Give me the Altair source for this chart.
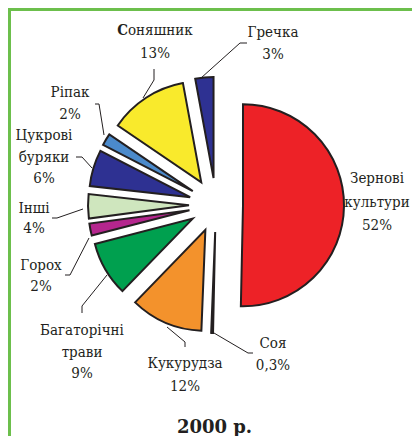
import math
import altair as alt
import pandas as pd

# ---- data ----
crops = ["Зернові культури", "Соя", "Кукурудза", "Багаторічні трави", "Горох",
         "Інші", "Цукрові буряки", "Ріпак", "Соняшник", "Гречка"]
shares = [52, 0.3, 12, 9, 2, 4, 6, 2, 13, 3]
colors = ["#ED2227", "#00A650", "#F3922C", "#00A04F", "#B5268E",
          "#CFE6BE", "#2E3192", "#4B8ACB", "#F9EA2C", "#2E3192"]
label_lines = [
    ["Зернові", "культури", "52%"],
    ["Соя", "0,3%"],
    ["Кукурудза", "12%"],
    ["Багаторічні", "трави", "9%"],
    ["Горох", "2%"],
    ["Інші", "4%"],
    ["Цукрові", "буряки", "6%"],
    ["Ріпак", "2%"],
    ["Соняшник", "13%"],
    ["Гречка", "3%"],
]
title_text = "2000 р."

# ---- layout (chart pixel units) ----
W, H = 404, 428
CX, CY, R, EXPLODE = 208, 197, 101, 27
label_pos = [  # centre x, first baseline, line spacing
    (369, 175, 23.5), (265, 340, 22), (177, 360, 23), (74, 327, 21.5),
    (33, 262, 21), (26, 205, 20), (36, 132, 21.5), (62, 89, 22),
    (147, 27, 23), (265, 29, 22),
]
leaders = [
    None,
    [(206, 325), (240, 345), (245, 345)],
    [(159, 319), (177, 334), (177, 339)],
    [(74, 305), (74, 298), (99, 267)],
    [(57, 267), (62, 267), (81, 230)],
    [(44, 210), (49, 210), (75, 201)],
    [(68, 149), (74, 149), (84, 160)],
    [(87, 96), (91, 96), (96, 127)],
    [(146, 61), (146, 72), (135, 90)],
    [(239, 35), (232, 35), (193, 70)],
]
SPLIT_X = 120           # where bold initial of "Соняшник" meets the rest
TITLE_POS = (206.5, 425)
INK = "#231f20"
FRAME = "#6cbf4c"
FONT = "DejaVu Serif Condensed"
FSIZE = 15

# ---- derived tables ----
total = sum(shares)
slice_rows = []
cum = 0.0
for crop, v in zip(crops, shares):
    start, end = cum, cum + v
    cum = end
    mid = (start + end) / 2 / total * 2 * math.pi
    slice_rows.append(dict(crop=crop, start=start, end=end,
                           cx=CX + EXPLODE * math.sin(mid),
                           cy=CY - EXPLODE * math.cos(mid)))
slices = pd.DataFrame(slice_rows)

line_rows = []
for crop, pts in zip(crops, leaders):
    if pts:
        for i, (px, py) in enumerate(pts):
            line_rows.append(dict(crop=crop, i=i, x=px, y=py))
lead_df = pd.DataFrame(line_rows)

text_rows = []
special_rows = []
for crop, lines, (lx, ly, sp) in zip(crops, label_lines, label_pos):
    for i, t in enumerate(lines):
        y = ly + i * sp
        if crop == "Соняшник" and i == 0:
            special_rows.append(dict(x=SPLIT_X, y=y, text=t[0], kind="bold"))
            special_rows.append(dict(x=SPLIT_X, y=y, text=t[1:], kind="rest"))
        else:
            text_rows.append(dict(x=lx, y=y, text=t))
text_df = pd.DataFrame(text_rows)
special_df = pd.DataFrame(special_rows)
title_df = pd.DataFrame([dict(x=TITLE_POS[0], y=TITLE_POS[1], text=title_text)])

xs = alt.Scale(domain=[0, W], nice=False, zero=False)
ys = alt.Scale(domain=[0, H], reverse=True, nice=False, zero=False)
X = lambda f: alt.X(f, type="quantitative", scale=xs, axis=None)
Y = lambda f: alt.Y(f, type="quantitative", scale=ys, axis=None)

arcs = alt.Chart(slices).mark_arc(radius=R, stroke=INK, strokeWidth=2).encode(
    x=X("cx"), y=Y("cy"),
    theta=alt.Theta("start:Q", scale=alt.Scale(domain=[0, total], range=[0, 2 * math.pi]), stack=False),
    theta2="end:Q",
    color=alt.Color("crop:N", scale=alt.Scale(domain=crops, range=colors), legend=None),
)

leader_lines = alt.Chart(lead_df).mark_line(color=INK, strokeWidth=1).encode(
    x=X("x"), y=Y("y"), detail="crop:N", order="i:Q"
)

labels = alt.Chart(text_df).mark_text(font=FONT, fontSize=FSIZE, color=INK,
                                      align="center", baseline="alphabetic").encode(
    x=X("x"), y=Y("y"), text="text:N"
)
bold_init = alt.Chart(special_df).transform_filter("datum.kind == 'bold'").mark_text(
    font=FONT, fontSize=FSIZE, fontWeight="bold", color=INK, align="right", baseline="alphabetic"
).encode(x=X("x"), y=Y("y"), text="text:N")
rest = alt.Chart(special_df).transform_filter("datum.kind == 'rest'").mark_text(
    font=FONT, fontSize=FSIZE, color=INK, align="left", baseline="alphabetic"
).encode(x=X("x"), y=Y("y"), text="text:N")

title = alt.Chart(title_df).mark_text(font="DejaVu Serif", fontSize=18, fontWeight="bold", color=INK,
                                      align="center", baseline="alphabetic").encode(
    x=X("x"), y=Y("y"), text="text:N"
)

one = pd.DataFrame({"k": [0]})
frame_top = alt.Chart(one).mark_rule(color=FRAME, strokeWidth=3).encode(
    x=alt.value(0), x2=alt.value(W), y=alt.value(1.5)
)
frame_left = alt.Chart(one).mark_rule(color=FRAME, strokeWidth=3).encode(
    x=alt.value(1.5), y=alt.value(0), y2=alt.value(H)
)

chart = alt.layer(frame_top, frame_left, arcs, leader_lines, labels, bold_init, rest, title).properties(
    width=W, height=H, padding=0, autosize=alt.AutoSizeParams(type="none"), background="white"
).configure_view(stroke="transparent")

chart.save("out.html", embed_options={"renderer": "svg", "actions": False})
